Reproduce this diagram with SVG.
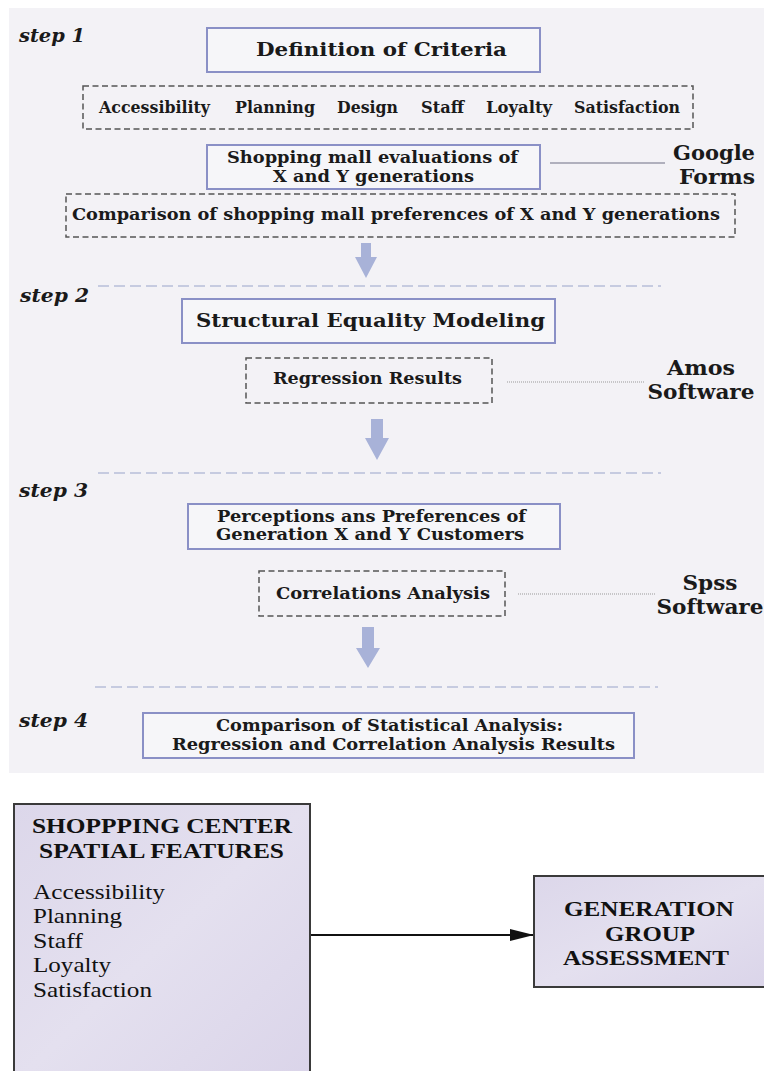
<svg xmlns="http://www.w3.org/2000/svg" width="764" height="1071" viewBox="0 0 764 1071">
<defs>
<style>
.t{font-family:"DejaVu Serif","Liberation Serif",serif;font-weight:bold;fill:#1a1a1a}
.st{font-family:"DejaVu Serif","Liberation Serif",serif;font-weight:bold;font-style:italic;font-size:18px;fill:#1a1a1a}
.sw{font-family:"DejaVu Serif","Liberation Serif",serif;font-weight:bold;font-size:20px;fill:#1a1a1a}
.tb{font-family:"Liberation Serif","Times New Roman",serif;font-weight:bold;font-size:22px;fill:#111}
.tr{font-family:"Liberation Serif","Times New Roman",serif;font-size:21px;fill:#111}
.box{fill:#f6f6f9;stroke:#8a90c6;stroke-width:2}
.dbox{fill:none;stroke:#555;stroke-width:1.5;stroke-dasharray:6 3.5}
.sep{stroke:#c6cbe0;stroke-width:2;stroke-dasharray:11 5;fill:none}
.arr{fill:#a8b2d8}
.dot{stroke:#999;stroke-width:1;stroke-dasharray:1 1;fill:none}
.bbox{fill:url(#lav);stroke:#3a3a3a;stroke-width:2}
</style>
<linearGradient id="lav" x1="0" y1="0" x2="1" y2="1">
<stop offset="0" stop-color="#dcd7ea"/>
<stop offset="0.5" stop-color="#e4e0ef"/>
<stop offset="1" stop-color="#dad4e9"/>
</linearGradient>
<marker id="ah" markerWidth="24" markerHeight="12" refX="23" refY="6" orient="auto" markerUnits="userSpaceOnUse">
<path d="M0,0 L24,6 L0,12 Z" fill="#111"/>
</marker>
</defs>
<rect x="0" y="0" width="764" height="1071" fill="#ffffff"/>
<rect x="9" y="8" width="755" height="765" fill="#f3f2f6"/>

<g id="steps">
<text class="st" x="19" y="42" textLength="66" lengthAdjust="spacingAndGlyphs">step 1</text>
<text class="st" x="20" y="302" textLength="69" lengthAdjust="spacingAndGlyphs">step 2</text>
<text class="st" x="19" y="497" textLength="69" lengthAdjust="spacingAndGlyphs">step 3</text>
<text class="st" x="19" y="727" textLength="69" lengthAdjust="spacingAndGlyphs">step 4</text>
</g>

<g id="connectors">
<line class="sep" x1="98" y1="286" x2="661" y2="286"/>
<line class="sep" x1="98" y1="473" x2="661" y2="473"/>
<line class="sep" x1="95" y1="687" x2="658" y2="687"/>
<polygon class="arr" points="361,243 371,243 371,257 377,257 366,278 355,257 361,257"/>
<polygon class="arr" points="371,419 383,419 383,438 389,438 377,460 365,438 371,438"/>
<polygon class="arr" points="362,627 374,627 374,648 380,648 368,668 356,648 362,648"/>
<line x1="550" y1="163" x2="665" y2="163" stroke="#9a9aaa" stroke-width="1.5"/>
<line class="dot" x1="507" y1="382" x2="645" y2="382"/>
<line class="dot" x1="518" y1="594" x2="656" y2="594"/>
<line x1="310" y1="935" x2="533" y2="935" stroke="#111" stroke-width="2" marker-end="url(#ah)"/>
</g>

<g id="definition">
<rect class="box" x="207" y="28" width="333" height="44"/>
<text class="t" x="256" y="56" font-size="18" textLength="251" lengthAdjust="spacingAndGlyphs">Definition of Criteria</text>
</g>

<g id="criteria">
<rect class="dbox" x="83" y="86" width="610" height="43"/>
<text class="t" font-size="16" x="99" y="113" textLength="111" lengthAdjust="spacingAndGlyphs">Accessibility</text>
<text class="t" font-size="16" x="235" y="113" textLength="80" lengthAdjust="spacingAndGlyphs">Planning</text>
<text class="t" font-size="16" x="337" y="113" textLength="61" lengthAdjust="spacingAndGlyphs">Design</text>
<text class="t" font-size="16" x="421" y="113" textLength="43" lengthAdjust="spacingAndGlyphs">Staff</text>
<text class="t" font-size="16" x="486" y="113" textLength="66" lengthAdjust="spacingAndGlyphs">Loyalty</text>
<text class="t" font-size="16" x="574" y="113" textLength="106" lengthAdjust="spacingAndGlyphs">Satisfaction</text>
</g>

<g id="evaluations">
<rect class="box" x="207" y="145" width="333" height="44"/>
<text class="t" font-size="16" x="227" y="163" textLength="291" lengthAdjust="spacingAndGlyphs">Shopping mall evaluations of</text>
<text class="t" font-size="16" x="273" y="182" textLength="201" lengthAdjust="spacingAndGlyphs">X and Y generations</text>
</g>

<g id="google">
<text class="sw" x="755" y="160" text-anchor="end" textLength="82" lengthAdjust="spacingAndGlyphs">Google</text>
<text class="sw" x="755" y="184" text-anchor="end" textLength="76" lengthAdjust="spacingAndGlyphs">Forms</text>
</g>

<g id="comparison">
<rect class="dbox" x="66" y="194" width="669" height="43"/>
<text class="t" font-size="17" x="72" y="220" textLength="648" lengthAdjust="spacingAndGlyphs">Comparison of shopping mall preferences of X and Y generations</text>
</g>

<g id="sem">
<rect class="box" x="182" y="299" width="373" height="44"/>
<text class="t" font-size="19" x="196" y="327" textLength="349" lengthAdjust="spacingAndGlyphs">Structural Equality Modeling</text>
</g>

<g id="regression">
<rect class="dbox" x="246" y="358" width="246" height="45"/>
<text class="t" font-size="16" x="273" y="384" textLength="189" lengthAdjust="spacingAndGlyphs">Regression Results</text>
</g>

<g id="amos">
<text class="sw" x="701" y="375" text-anchor="middle" textLength="68" lengthAdjust="spacingAndGlyphs">Amos</text>
<text class="sw" x="701" y="399" text-anchor="middle" textLength="107" lengthAdjust="spacingAndGlyphs">Software</text>
</g>

<g id="perceptions">
<rect class="box" x="188" y="504" width="372" height="45"/>
<text class="t" font-size="16" x="217" y="522" textLength="309" lengthAdjust="spacingAndGlyphs">Perceptions ans Preferences of</text>
<text class="t" font-size="16" x="216" y="540" textLength="308" lengthAdjust="spacingAndGlyphs">Generation X and Y Customers</text>
</g>

<g id="correlations">
<rect class="dbox" x="259" y="571" width="246" height="45"/>
<text class="t" font-size="17" x="276" y="599" textLength="214" lengthAdjust="spacingAndGlyphs">Correlations Analysis</text>
</g>

<g id="spss">
<text class="sw" x="710" y="590" text-anchor="middle" textLength="55" lengthAdjust="spacingAndGlyphs">Spss</text>
<text class="sw" x="710" y="614" text-anchor="middle" textLength="107" lengthAdjust="spacingAndGlyphs">Software</text>
</g>

<g id="statcomparison">
<rect class="box" x="143" y="713" width="491" height="45"/>
<text class="t" font-size="16" x="216" y="731" textLength="347" lengthAdjust="spacingAndGlyphs">Comparison of Statistical Analysis:</text>
<text class="t" font-size="16" x="172" y="750" textLength="443" lengthAdjust="spacingAndGlyphs">Regression and Correlation Analysis Results</text>
</g>

<g id="spatialfeatures">
<rect class="bbox" x="14" y="804" width="296" height="280"/>
<text class="tb" x="32" y="833" textLength="260" lengthAdjust="spacingAndGlyphs">SHOPPPING CENTER</text>
<text class="tb" x="39" y="858" textLength="245" lengthAdjust="spacingAndGlyphs">SPATIAL FEATURES</text>
<text class="tr" x="33" y="899" textLength="132" lengthAdjust="spacingAndGlyphs">Accessibility</text>
<text class="tr" x="33" y="923" textLength="89" lengthAdjust="spacingAndGlyphs">Planning</text>
<text class="tr" x="33" y="948" textLength="50" lengthAdjust="spacingAndGlyphs">Staff</text>
<text class="tr" x="33" y="972" textLength="78" lengthAdjust="spacingAndGlyphs">Loyalty</text>
<text class="tr" x="33" y="997" textLength="119" lengthAdjust="spacingAndGlyphs">Satisfaction</text>
</g>

<g id="generation">
<rect class="bbox" x="534" y="876" width="240" height="111"/>
<text class="tb" x="564" y="916" textLength="170" lengthAdjust="spacingAndGlyphs">GENERATION</text>
<text class="tb" x="605" y="941" textLength="90" lengthAdjust="spacingAndGlyphs">GROUP</text>
<text class="tb" x="563" y="965" textLength="166" lengthAdjust="spacingAndGlyphs">ASSESSMENT</text>
</g>
</svg>
